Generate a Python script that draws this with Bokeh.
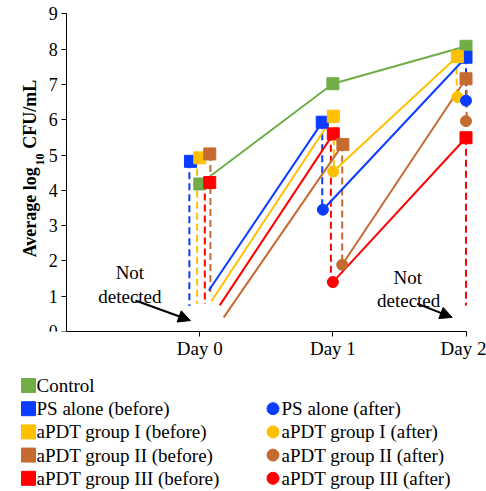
import numpy as np
from bokeh.plotting import figure
from bokeh.models import Range1d, FixedTicker, Label, Arrow, NormalHead
from bokeh.layouts import column
from bokeh.embed import file_html
from bokeh.resources import INLINE
from bokeh.core.properties import value

# ---------------- data (log10 CFU/mL) ----------------
days = [0, 1, 2]
day_labels = ["Day 0", "Day 1", "Day 2"]
y_ticks = [0, 1, 2, 3, 4, 5, 6, 7, 8, 9]

control = [4.18, 7.02, 8.08]
ps_before = [4.82, 5.93, 7.77]
ps_after = [np.nan, 3.45, 6.54]
g1_before = [4.92, 6.10, 7.79]
g1_after = [np.nan, 4.53, 6.64]
g2_before = [5.03, 5.30, 7.16]
g2_after = [np.nan, 1.89, 5.96]
g3_before = [4.22, 5.60, 5.49]
g3_after = [np.nan, 1.40, np.nan]

# lower end of the drop line where the "after" value was not detected
ps_nd_floor = [0.72, np.nan, np.nan]
g1_nd_floor = [0.78, np.nan, np.nan]
g2_nd_floor = [1.12, np.nan, np.nan]
g3_nd_floor = [0.78, np.nan, 0.74]
# start value of the regrowth line after a not-detected day-0 value
ps_nd_start = 1.16
g1_nd_start = 0.85
g2_nd_start = 0.40
g3_nd_start = 0.74

legend_left = ["Control", "PS alone (before)", "aPDT group I (before)",
               "aPDT group II (before)", "aPDT group III (before)"]
legend_right = ["PS alone (after)", "aPDT group I (after)",
                "aPDT group II (after)", "aPDT group III (after)"]

# ---------------- styles / positions ----------------
GREEN = "#70AD47"
BLUE = "#0A3CFF"
YELLOW = "#FFC000"
BROWN = "#C66B30"
RED = "#FF0000"
FONT = "Liberation Serif"
DASH = "7 4"

groups = [
    dict(color=BLUE, before=ps_before, after=ps_after, floor=ps_nd_floor, nd_start=ps_nd_start,
         off_b=[-0.07, -0.08, 0.0], off_a=[0.0, -0.075, 0.0], off_d=[-0.078, -0.08, 0.0], off_s=0.068),
    dict(color=YELLOW, before=g1_before, after=g1_after, floor=g1_nd_floor, nd_start=g1_nd_start,
         off_b=[0.0, 0.003, -0.065], off_a=[0.0, 0.003, -0.065], off_d=[-0.02, 0.007, -0.07], off_s=0.086),
    dict(color=RED, before=g3_before, after=g3_after, floor=g3_nd_floor, nd_start=g3_nd_start,
         off_b=[0.075, 0.003, 0.0], off_a=[0.0, 0.0, 0.0], off_d=[0.038, -0.015, 0.0], off_s=0.15),
    dict(color=BROWN, before=g2_before, after=g2_after, floor=g2_nd_floor, nd_start=g2_nd_start,
         off_b=[0.075, 0.075, 0.0], off_a=[0.0, 0.07, 0.0], off_d=[0.08, 0.07, 0.005], off_s=0.18),
]

# frame covers the whole width; the y axis sits at x = -1 inside it
p = figure(width=486, height=368, x_range=Range1d(-1.497, 2.154), y_range=Range1d(0, 9.377),
           output_backend="svg", toolbar_location=None,
           min_border_left=0, min_border_right=0, min_border_top=0, min_border_bottom=37)
p.grid.visible = False
p.outline_line_color = None

for ax in (p.xaxis[0], p.yaxis[0]):
    ax.axis_line_color = "black"
    ax.axis_line_width = 1
    ax.major_tick_line_color = "black"
    ax.major_tick_in = 0
    ax.major_tick_out = 5
    ax.minor_tick_line_color = None
    ax.major_label_text_font = FONT
    ax.major_label_text_color = "black"

p.xaxis.ticker = FixedTicker(ticks=days)
p.xaxis.major_label_overrides = {d: l for d, l in zip(days, day_labels)}
p.xaxis.bounds = (-1, 2)
p.xaxis.major_label_text_font_size = "19px"
p.xaxis.major_label_standoff = 1
p.yaxis.ticker = FixedTicker(ticks=y_ticks)
p.yaxis.bounds = (0, 9)
p.yaxis.fixed_location = -1
p.yaxis.major_label_text_font_size = "18px"
p.yaxis.major_label_standoff = 4

# dashed drop lines (before -> after / not detected)
for g in groups:
    for i, d in enumerate(days):
        low = g["after"][i] if not np.isnan(g["after"][i]) else g["floor"][i]
        if np.isnan(low):
            continue
        x = d + g["off_d"][i]
        p.segment(x0=[x], y0=[g["before"][i]], x1=[x], y1=[low],
                  line_color=g["color"], line_width=2, line_dash=DASH)

# regrowth lines (after of one day -> before of next day)
for g in groups:
    for i in range(len(days) - 1):
        if np.isnan(g["after"][i]):
            xs, ys = days[i] + g["off_s"], g["nd_start"]
        else:
            xs, ys = days[i] + g["off_a"][i], g["after"][i]
        p.line([xs, days[i + 1] + g["off_b"][i + 1]], [ys, g["before"][i + 1]],
               line_color=g["color"], line_width=2)

# control
p.line(days, control, line_color=GREEN, line_width=2)

# markers
for g in reversed(groups):
    xa = [d + o for d, o in zip(days, g["off_a"])]
    p.scatter(xa, g["after"], marker="circle", size=11, fill_color=g["color"], line_color=g["color"])
p.scatter(days, control, marker="square", size=12, fill_color=GREEN, line_color=GREEN)
for g in groups:
    xb = [d + o for d, o in zip(days, g["off_b"])]
    p.scatter(xb, g["before"], marker="square", size=12, fill_color=g["color"], line_color=g["color"])

# y axis title with subscript
lab_kw = dict(x_units="data", y_units="data", angle=np.pi / 2, text_font=FONT,
              text_font_style="bold", text_color="black", text_align="left", text_baseline="alphabetic")
p.add_layout(Label(x=-1.272, y=2.10, text="Average log", text_font_size="18px", **lab_kw))
p.add_layout(Label(x=-1.197, y=4.70, text="10", text_font_size="12px", **lab_kw))
p.add_layout(Label(x=-1.272, y=5.18, text="CFU/mL", text_font_size="18px", **lab_kw))

# "Not detected" annotations
nd_kw = dict(text_font=FONT, text_font_size="19px", text_color="black",
             text_align="center", text_baseline="alphabetic")
p.add_layout(Label(x=-0.525, y=1.68, text="Not", **nd_kw))
p.add_layout(Label(x=-0.525, y=1.00, text="detected", **nd_kw))
p.add_layout(Label(x=1.563, y=1.54, text="Not", **nd_kw))
p.add_layout(Label(x=1.569, y=0.88, text="detected", **nd_kw))
for (xs, ys, xe, ye) in [(-0.483, 0.88, -0.07, 0.31), (1.633, 0.79, 1.896, 0.40)]:
    p.add_layout(Arrow(end=NormalHead(size=12, fill_color="black", line_color="black"),
                       x_start=xs, y_start=ys, x_end=xe, y_end=ye,
                       line_color="black", line_width=2))

# ---------------- legend (separate strip below) ----------------
LEG_H = 123
leg = figure(width=486, height=LEG_H, x_range=Range1d(0, 486), y_range=Range1d(0, LEG_H),
             output_backend="svg", toolbar_location=None, min_border=0,
             x_axis_type=None, y_axis_type=None)
leg.grid.visible = False
leg.outline_line_color = None

row_y = [LEG_H - (385 - 368 + 23.2 * i) for i in range(5)]
left_colors = [GREEN, BLUE, YELLOW, BROWN, RED]
right_colors = [BLUE, YELLOW, BROWN, RED]
leg.scatter([28] * 5, row_y, marker="square", size=14, fill_color=left_colors, line_color=left_colors)
leg.text([36] * 5, row_y, text=legend_left, text_font=value(FONT), text_font_size=value("19px"),
         text_baseline="middle", text_align="left", text_color="black")
leg.scatter([272.5] * 4, row_y[1:], marker="circle", size=12, fill_color=right_colors, line_color=right_colors)
leg.text([281] * 4, row_y[1:], text=legend_right, text_font=value(FONT), text_font_size=value("19px"),
         text_baseline="middle", text_align="left", text_color="black")

layout = column(p, leg, spacing=0)
open("out.html", "w").write(file_html(layout, INLINE))
